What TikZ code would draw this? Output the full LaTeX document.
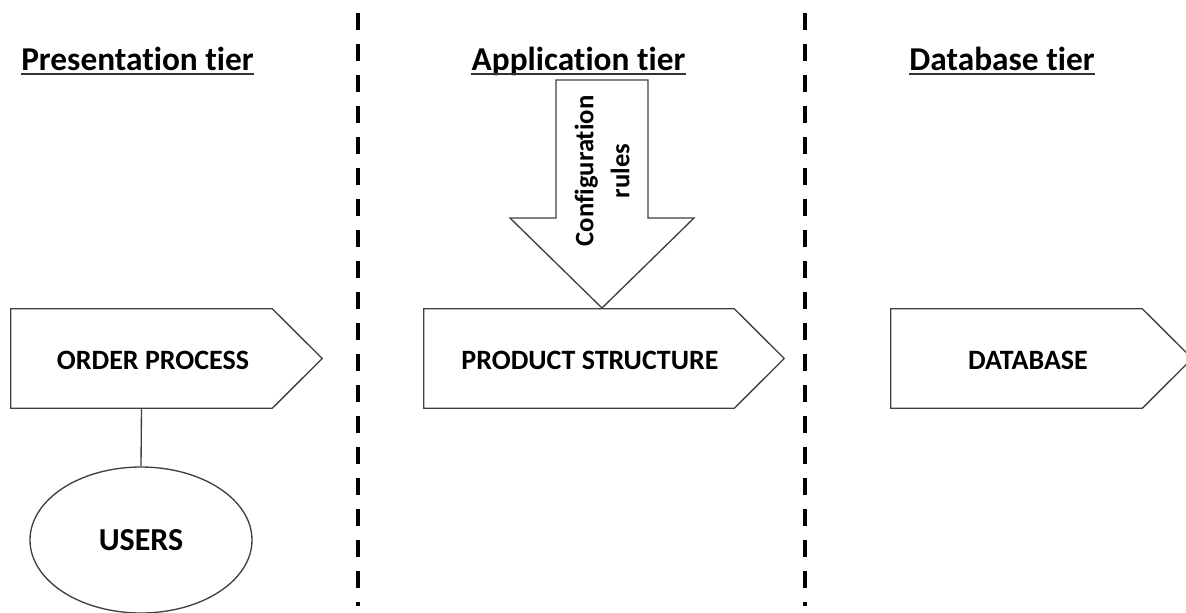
\documentclass[tikz,border=0pt]{standalone}
\usepackage{fontspec}
\setmainfont{Carlito}[Ligatures=CommonOff]
\usetikzlibrary{shapes.geometric}
\begin{document}
\begin{tikzpicture}[x=0.75pt,y=-0.75pt,
  outline/.style={draw=black!75, line width=1pt},
  tierline/.style={line width=3pt, dash pattern=on 12.75pt off 10.5pt},
  tiertitle/.style={font=\fontsize{25}{30}\selectfont\bfseries, inner sep=0pt, anchor=base},
  boxlabel/.style={font=\fontsize{21}{25}\selectfont\bfseries, inner sep=0pt},
  boxbody/.style={rectangle, inner sep=0pt, minimum height=74.25pt},
  ]
\useasboundingbox (0,0) rectangle (1186,612);
\fill[white] (0,0) rectangle (1186,612);

% tier separators
\coordinate (d1t) at (358,13);
\coordinate (d1b) at (358,606);
\coordinate (d2t) at (805,13);
\coordinate (d2b) at (805,606);
\draw[tierline] (d1t) -- (d1b);
\draw[tierline] (d2t) -- (d2b);

% titles
\node[tiertitle] (t1) at (137.5,70) {Presentation tier};
\node[tiertitle] (t2) at (578.5,70) {Application tier};
\node[tiertitle] (t3) at (1002,70) {Database tier};
\foreach \t in {t1,t2,t3}
  \draw[line width=1.5pt, black!80] ([yshift=-3pt]\t.base west) -- ([yshift=-3pt]\t.base east);

% boxes
\node[boxbody, minimum width=195.75pt] (op) at (141.5,358.5) {};
\node[boxbody, minimum width=232.5pt] (ps) at (579,358.5) {};
\node[boxbody, minimum width=188.25pt] (db) at (1016.5,358.5) {};
\foreach \b in {op,ps,db}
  \draw[outline, fill=white] (\b.north west) -- (\b.north east) -- ([xshift=37.5pt]\b.east)
     -- (\b.south east) -- (\b.south west) -- cycle;
\node[boxlabel] (opt) at (153,360) {ORDER PROCESS};
\node[boxlabel] (pst) at (590,360) {PRODUCT STRUCTURE};
\node[boxlabel] (dbt) at (1028,360) {DATABASE};

% users
\node[ellipse, outline, minimum width=166.5pt, minimum height=109.5pt, inner sep=0pt,
      font=\fontsize{24}{28}\selectfont\bfseries] (users) at (141,540) {USERS};
\draw[outline] (op.south) -- (users.north);

% configuration rules arrow
\draw[outline, fill=white] (556,80) -- (648,80) -- (648,218) -- (694,218) -- (602,308)
   -- (510,218) -- (556,218) -- cycle;
\node[boxlabel, font=\fontsize{20}{27}\selectfont\bfseries, rotate=90, align=center] (cfg) at (602,171)
   {Configuration\\rules};
\end{tikzpicture}
\end{document}
